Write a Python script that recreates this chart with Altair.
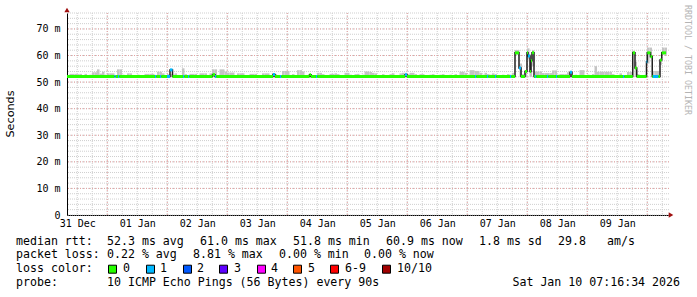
import altair as alt
import pandas as pd

# ---------------- values ----------------
# time axis: hours since the left edge of the plot (2.5 px per hour)
X_END = 240.8
Y_MAX = 76
FIRST_NOON = 4.1          # "31 Dec" label position (noon)
FIRST_MIDNIGHT = 16.1     # 01 Jan 00:00

day_labels = ["31 Dec", "01 Jan", "02 Jan", "03 Jan", "04 Jan",
              "05 Jan", "06 Jan", "07 Jan", "08 Jan", "09 Jan"]
y_ticks = [0, 10, 20, 30, 40, 50, 60, 70]

# smoke (spread of the pings) per hour bin, in ms: top and bottom
smoke_top = (
    [52.4, 53.1, 53.1, 53.1, 53.0, 53.1, 52.6, 53.1, 52.5, 52.8, 53.7, 53.7,
     54.8, 53.2, 53.9, 52.8, 53.3, 53.3, 53.3, 52.6, 54.8, 54.8, 52.8, 52.5] +
    [53.3, 53.3, 52.6, 52.5, 52.8, 52.6, 52.5, 53.1, 53.1, 53.1, 53.1, 52.7,
     53.9, 53.9, 53.3, 52.6, 53.0, 53.0, 52.8, 53.3, 52.6, 52.6, 55.2, 53.0] +
    [52.6, 53.1, 53.1, 53.1, 52.6, 53.3, 53.3, 53.3, 52.6, 53.3, 54.8, 54.8,
     52.6, 54.8, 54.8, 54.0, 53.6, 53.6, 53.6, 52.6, 53.3, 53.3, 53.3, 52.6] +
    [52.5, 53.1, 53.1, 53.1, 52.6, 52.5, 53.3, 53.3, 53.3, 52.6, 52.8, 53.0,
     52.6, 52.6, 54.2, 54.2, 54.2, 52.7, 53.0, 52.6, 54.5, 54.5, 54.0, 52.6] +
    [52.6, 53.0, 52.6, 52.6, 53.5, 53.5, 53.0, 52.6, 52.6, 53.1, 53.1, 53.3,
     53.0, 52.6, 52.6, 53.5, 53.5, 52.8, 52.6, 53.0, 53.1, 52.6, 52.8, 54.0] +
    [54.0, 53.8, 53.5, 53.3, 52.6, 52.6, 53.0, 52.6, 52.6, 53.0, 53.3, 52.6,
     52.6, 53.3, 53.5, 53.5, 53.0, 53.5, 53.5, 53.0, 52.6, 53.0, 53.0, 52.6] +
    [52.6, 52.8, 53.0, 52.6, 52.6, 52.8, 53.0, 52.6, 52.6, 52.8, 52.6, 53.0,
     52.6, 53.9, 53.9, 53.5, 52.8, 54.5, 54.5, 54.2, 54.2, 53.5, 52.8, 53.5] +
    [53.0, 52.8, 53.3, 53.0, 52.6, 52.6, 52.8, 52.6, 53.0, 52.8, 53.5, 62.1,
     62.1, 57.0, 53.0, 54.5, 62.7, 60.5, 62.0, 54.0, 54.0, 54.0, 53.4, 53.4] +
    [53.4, 53.4, 54.4, 54.4, 52.8, 53.0, 53.0, 53.0, 53.7, 53.7, 52.6, 52.8,
     52.6, 54.5, 54.5, 52.6, 52.8, 52.6, 53.0, 56.0, 53.9, 53.9, 53.9, 53.9] +
    [53.9, 53.9, 53.0, 52.6, 52.6, 53.3, 52.6, 52.6, 53.8, 53.8, 61.8, 57.7,
     53.0, 52.6, 52.6, 52.8, 63.0, 63.0, 54.2, 54.2, 54.2, 58.5, 63.0, 63.0]
)
smoke_low = (
    [51.9] * 24 + [51.9] * 24 + [51.9] * 24 + [51.9] * 24 + [51.9] * 24 +
    [51.9] * 24 + [51.9] * 24 +
    [51.9, 51.9, 51.9, 51.9, 51.9, 51.9, 51.9, 51.9, 51.9, 51.9, 51.9, 60.3,
     60.3, 51.9, 51.9, 51.9, 58.5, 52.0, 56.0, 51.9, 51.9, 51.9, 51.9, 51.9] +
    [51.9] * 24 +
    [51.9, 51.9, 51.9, 51.9, 51.9, 51.9, 51.9, 51.9, 51.9, 51.9, 60.3, 51.9,
     51.9, 51.9, 51.9, 51.9, 57.0, 59.0, 51.9, 51.9, 51.9, 56.5, 60.3, 60.3]
)

# median rtt as steps: start hour, value (ms), packets lost
med_start = [0.0, 19.0, 19.5, 20.4, 20.9, 35.2, 35.7, 37.2, 37.7, 40.0, 41.2, 42.2,
             46.4, 46.9, 48.4, 48.9, 58.2, 59.2, 59.7, 82.4, 83.2, 85.2, 85.7,
             97.0, 97.6, 99.6, 100.1, 135.2, 136.0, 163.2, 163.7, 168.0, 168.5,
             171.2, 171.7, 177.2, 177.7,
             179.2, 180.8, 181.6, 183.2, 184.0, 184.4, 185.2, 185.6, 186.0, 186.8,
             187.2, 187.7, 192.0, 192.5, 195.6, 196.1, 201.2, 202.0, 222.4, 222.9,
             226.3, 227.2, 227.9, 231.8, 232.1, 233.4, 234.1, 234.4, 236.6, 237.2,
             237.9]
med_value = [52.1, 52.1, 52.1, 52.1, 52.1, 52.1, 52.1, 52.1, 52.1, 52.1, 54.6, 52.1,
             52.1, 52.1, 52.1, 52.1, 52.8, 52.1, 52.1, 52.9, 52.1, 52.1, 52.1,
             52.8, 52.1, 52.1, 52.1, 52.8, 52.1, 52.1, 52.1, 52.1, 52.1,
             52.1, 52.1, 52.1, 52.1,
             61.0, 55.3, 52.1, 54.0, 61.0, 59.8, 54.0, 58.0, 61.0, 52.1,
             52.1, 52.1, 52.1, 52.1, 52.1, 52.1, 53.7, 52.1, 52.1, 52.1,
             61.0, 55.3, 52.1, 57.7, 61.0, 59.6, 52.1, 52.1, 52.1, 58.3,
             61.0]
med_loss = [0, 1, 0, 1, 0, 1, 0, 1, 0, 1, 1, 0,
            1, 0, 1, 0, 0, 1, 0, 1, 0, 1, 0,
            0, 0, 1, 0, 1, 0, 1, 0, 1, 0,
            1, 0, 1, 0,
            0, 1, 0, 0, 0, 1, 0, 0, 0, 0,
            1, 0, 1, 0, 1, 0, 1, 0, 1, 0,
            0, 0, 0, 1, 0, 0, 0, 1, 0, 0,
            0]
med_last = 239.6

loss_labels = ["0", "1", "2", "3", "4", "5", "6-9", "10/10"]
loss_colors = ["#26ff00", "#00b8ff", "#0059ff", "#5e00ff",
               "#ff00ff", "#ff5500", "#ff0000", "#a10000"]

row1 = ["median rtt:", "52.3 ms avg", "61.0 ms max", "51.8 ms min",
        "60.9 ms now", "1.8 ms sd", "29.8", "am/s"]
row2 = ["packet loss:", "0.22 % avg", "8.81 % max", "0.00 % min", "0.00 % now"]
row3_head = "loss color:"
probe_head = "probe:"
probe_text = "10 ICMP Echo Pings (56 Bytes) every 90s"
stamp = "Sat Jan 10 07:16:34 2026"
y_title = "Seconds"
watermark = "RRDTOOL / TOBI OETIKER"

# ---------------- layout ----------------
LEFT, TOP, W, H = 67, 13, 602, 202
MONO = "DejaVu Sans Mono"
LEG_FS = 11.6
row_y = [241.5, 255.3, 268.7, 282.7]
row1_x = [16, 107, 200, 293, 386, 479, 558, 607]
row2_x = [16, 107, 193, 279, 364]
sq_x = [108, 146, 183, 219, 257, 293, 330, 382]
sq_lbl_x = [123, 160, 197, 234, 271, 308, 345, 397]

xs = alt.Scale(domain=[0, X_END], nice=False, zero=False)
ys = alt.Scale(domain=[0, Y_MAX], nice=False, zero=True)

label_hours = [FIRST_NOON + 24 * k for k in range(len(day_labels))]
midnights = [FIRST_MIDNIGHT + 24 * k for k in range(10)]
six_hours = [h for h in [FIRST_NOON + 6 * k for k in range(41)] if h < X_END]
y_minor = list(range(0, Y_MAX + 1, 2))
y_major = list(range(10, 71, 10))

lbl_arr = "[" + ",".join("'%s'" % d for d in day_labels) + "]"
x_label_expr = "%s[round((datum.value - %s) / 24)]" % (lbl_arr, FIRST_NOON)

XAX = alt.Axis(
    values=label_hours, labelExpr=x_label_expr, grid=False, ticks=False,
    domain=True, domainColor="#000000", domainWidth=1,
    labelFont=MONO, labelFontSize=10, labelColor="#000000",
    labelPadding=3, title=None, labelOverlap=False, labelFlush=False)
YAX = alt.Axis(
    values=y_ticks, labelExpr="datum.value == 0 ? '0' : datum.value + ' m'",
    grid=False, ticks=False, domain=True, domainColor="#000000",
    domainWidth=1, labelFont=MONO, labelFontSize=10,
    labelColor="#000000", labelPadding=7, title=None, labelFlush=False)


def X(f):
    return alt.X(f, scale=xs, axis=XAX)


def Y(f):
    return alt.Y(f, scale=ys, axis=YAX)


minor_gray = "#cfcfcf"
major_red = "#e6a0a0"

gy_minor = alt.Chart(pd.DataFrame({"v": y_minor})).mark_rule(
    color=minor_gray, strokeDash=[1, 1], strokeWidth=1
).encode(y=Y("v:Q"))
gx_minor = alt.Chart(pd.DataFrame({"h": six_hours})).mark_rule(
    color=minor_gray, strokeDash=[1, 1], strokeWidth=1
).encode(x=X("h:Q"))
gy_major = alt.Chart(pd.DataFrame({"v": y_major})).mark_rule(
    color=major_red, strokeDash=[1, 2], strokeWidth=1
).encode(y=Y("v:Q"))
gx_major = alt.Chart(pd.DataFrame({"h": midnights})).mark_rule(
    color=major_red, strokeDash=[1, 2], strokeWidth=1
).encode(x=X("h:Q"))

smoke_df = pd.DataFrame({
    "h": list(range(len(smoke_top))),
    "h2": [i + 1 for i in range(len(smoke_top))],
    "low": smoke_low,
    "top": smoke_top,
})
smoke = alt.Chart(smoke_df).mark_rect(color="#c4c4c4").encode(
    x=X("h:Q"), x2="h2:Q", y=Y("low:Q"), y2="top:Q",
)

line_df = pd.DataFrame({"t": med_start + [med_last],
                        "v": med_value + [med_value[-1]]})
black = alt.Chart(line_df).mark_line(
    interpolate="step-after", color="#202020", strokeWidth=1.5
).encode(x=X("t:Q"), y=Y("v:Q"))

seg_df = pd.DataFrame({
    "t": med_start,
    "t2": med_start[1:] + [med_last],
    "v": med_value,
    "lc": [loss_labels[k] for k in med_loss],
})
segs = alt.Chart(seg_df).mark_rule(strokeWidth=3, strokeCap="butt").encode(
    x=X("t:Q"), x2="t2:Q", y=Y("v:Q"),
    color=alt.Color("lc:N", scale=alt.Scale(domain=loss_labels, range=loss_colors),
                    legend=None),
)

layers = [gy_minor, gx_minor, gy_major, gx_major, smoke, black, segs]


def txt(s, px, py, size=LEG_FS, align="left", font=MONO, color="#000000", angle=0):
    kw = dict(font=font, fontSize=size, align=align, baseline="middle", color=color)
    if angle:
        kw["angle"] = angle
    return alt.Chart(pd.DataFrame({"s": [s]})).mark_text(**kw).encode(
        x=alt.value(px - LEFT), y=alt.value(py - TOP), text="s:N")


# arrows at the ends of the axes
layers.append(alt.Chart(pd.DataFrame({"a": [1]})).mark_point(
    shape="triangle-up", filled=True, size=28, color="#a01010", opacity=1
).encode(x=alt.value(0), y=alt.value(-3)))
layers.append(alt.Chart(pd.DataFrame({"a": [1]})).mark_point(
    shape="triangle-right", filled=True, size=28, color="#a01010", opacity=1
).encode(x=alt.value(604), y=alt.value(H)))

# titles
layers.append(txt(y_title, 11, 114, size=11.2, align="center", font="DejaVu Sans", angle=270))
layers.append(txt(watermark, 687, 60, size=8.3, align="center", color="#b4b4b4", angle=90))

# legend lines
for s, px in zip(row1, row1_x):
    layers.append(txt(s, px, row_y[0]))
for s, px in zip(row2, row2_x):
    layers.append(txt(s, px, row_y[1]))
layers.append(txt(row3_head, 16, row_y[2]))
for lab, col, sx, lx in zip(loss_labels, loss_colors, sq_x, sq_lbl_x):
    layers.append(alt.Chart(pd.DataFrame({"a": [1]})).mark_rect(
        fill=col, stroke="#000000", strokeWidth=1
    ).encode(x=alt.value(sx - LEFT + 0.5), x2=alt.value(sx - LEFT + 8.5),
             y=alt.value(row_y[2] - TOP - 3.5), y2=alt.value(row_y[2] - TOP + 4.5)))
    layers.append(txt(lab, lx, row_y[2]))
layers.append(txt(probe_head, 16, row_y[3]))
layers.append(txt(probe_text, 107, row_y[3]))
layers.append(txt(stamp, 680, row_y[3], align="right"))

chart = alt.layer(*layers).properties(
    width=W, height=H,
    padding={"left": LEFT, "top": TOP, "right": 697 - LEFT - W, "bottom": 297 - TOP - H},
    autosize=alt.AutoSizeParams(type="none"),
    background="#ffffff",
).configure_view(stroke=None)

chart.save("out.html", embed_options={"renderer": "svg", "actions": False})
